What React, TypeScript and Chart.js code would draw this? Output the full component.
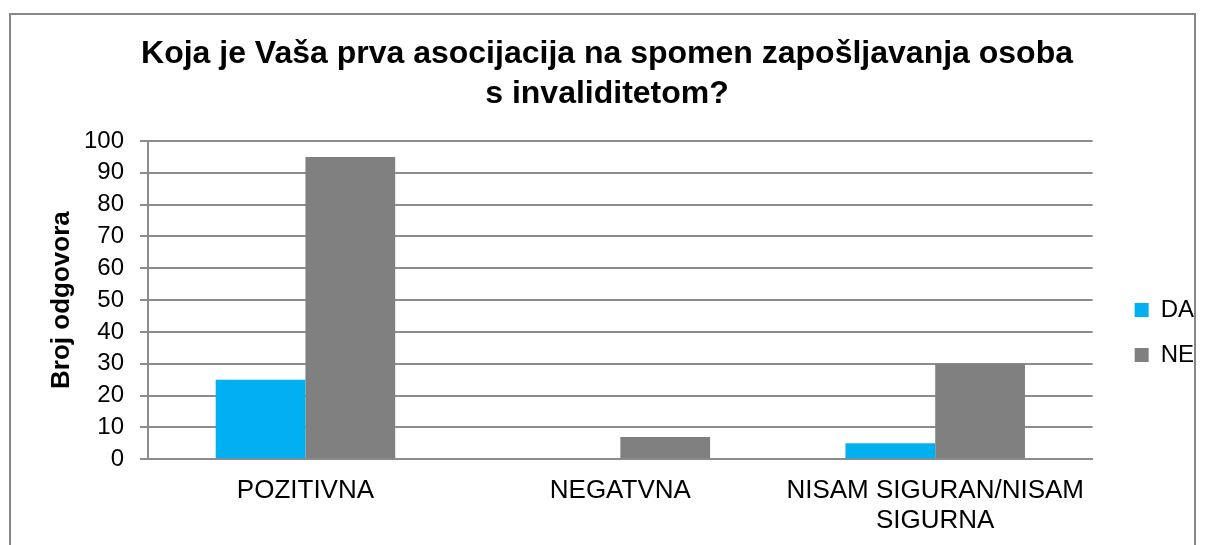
import React, { useEffect, useRef } from "react";
import { Chart, registerables } from "chart.js";

Chart.register(...registerables);

const titleLines = ["Koja je Vaša prva asocijacija na spomen zapošljavanja osoba", "s invaliditetom?"];
const categories: (string | string[])[] = ["POZITIVNA", "NEGATVNA", ["NISAM SIGURAN/NISAM", "SIGURNA"]];
const seriesNames = ["DA", "NE"];
const daValues = [25, 0, 5];
const neValues = [95, 7, 30];
const yAxisTitle = "Broj odgovora";
const yMin = 0;
const yMax = 100;
const yStep = 10;

const FONT = "'Liberation Sans', Arial, Helvetica, sans-serif";
const GRID = "#8c8c8c";

export default function App() {
  const ref = useRef<HTMLCanvasElement | null>(null);

  useEffect(() => {
    if (!ref.current) return;
    const chart = new Chart(ref.current, {
      type: "bar",
      data: {
        labels: categories,
        datasets: [
          { label: seriesNames[0], data: daValues, backgroundColor: "#00B0F0", borderWidth: 0 },
          { label: seriesNames[1], data: neValues, backgroundColor: "#808080", borderWidth: 0 },
        ],
      },
      options: {
        responsive: false,
        animation: false,
        devicePixelRatio: 1,
        layout: { padding: { left: 10, right: 26, top: 0, bottom: 10 } },
        datasets: { bar: { categoryPercentage: 0.57, barPercentage: 1 } },
        scales: {
          x: {
            grid: { display: false, drawTicks: false },
            border: { display: true, color: GRID, width: 2 },
            ticks: {
              color: "#000",
              font: { family: FONT, size: 26, lineHeight: 1.15 },
              padding: 17,
              maxRotation: 0,
              minRotation: 0,
              autoSkip: false,
            },
          },
          y: {
            min: yMin,
            max: yMax,
            grid: { color: GRID, lineWidth: 2, drawTicks: true, tickLength: 8 },
            border: { display: true, color: GRID, width: 2 },
            ticks: {
              stepSize: yStep,
              autoSkip: false,
              color: "#000",
              font: { family: FONT, size: 24, lineHeight: 1 },
              padding: 16,
            },
            title: {
              display: true,
              text: yAxisTitle,
              color: "#000",
              font: { family: FONT, size: 26, weight: "bold", lineHeight: 1.2 },
              padding: { top: 36, bottom: 0 },
            },
            afterFit: (s: any) => {
              s.width = 138;
            },
          },
          spacer: {
            type: "linear",
            position: "right",
            display: true,
            grid: { display: false, drawTicks: false },
            border: { display: false },
            ticks: { display: false },
            afterFit: (s: any) => {
              s.width = 21;
            },
          },
        } as any,
        plugins: {
          title: {
            display: true,
            text: titleLines,
            color: "#000",
            font: { family: FONT, size: 32, weight: "bold", lineHeight: 1.25 },
            padding: { top: 34, bottom: 27 },
          },
          legend: {
            display: true,
            position: "right",
            align: "center",
            title: {
              display: true,
              text: " ",
              font: { family: FONT, size: 10, lineHeight: 1 },
              padding: { top: 102, bottom: 0 },
            },
            labels: {
              color: "#000",
              font: { family: FONT, size: 24 },
              boxWidth: 14,
              boxHeight: 14,
              padding: 21,
            },
          },
          tooltip: { enabled: false },
        },
      },
    });
    return () => chart.destroy();
  }, []);

  return (
    <>
      <div
        style={{
          position: "fixed",
          left: 9,
          top: 13,
          width: 1183,
          height: 600,
          border: "2px solid #878787",
          boxSizing: "content-box",
          background: "#fff",
        }}
      />
      <div style={{ position: "fixed", left: 0, top: 0, width: 1206, height: 545, overflow: "hidden" }}>
        <canvas ref={ref} width={1230} height={563} style={{ display: "block" }} />
      </div>
    </>
  );
}
